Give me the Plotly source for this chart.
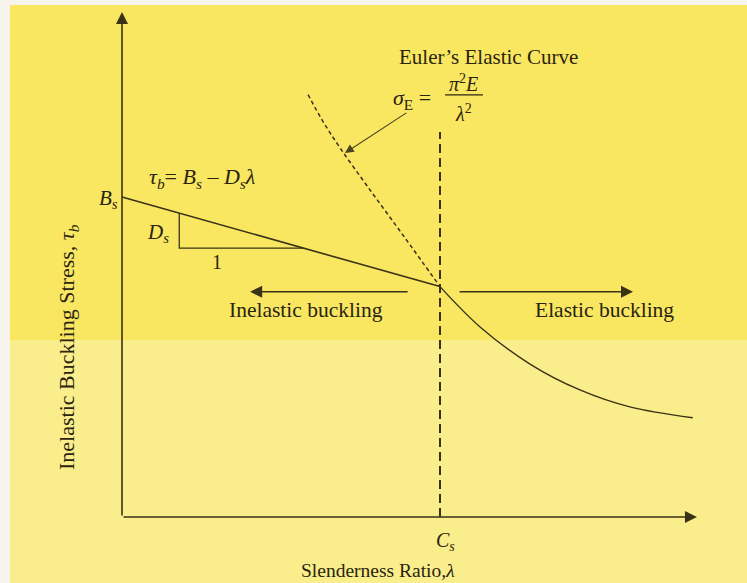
import plotly.graph_objects as go

# ---- diagram values (lambda: slenderness ratio, tau: buckling stress, arbitrary units)
Bs = 100.0            # intercept of the inelastic straight line
Cs = 100.0            # slenderness ratio at the inelastic/elastic transition
tau_at_Cs = 72.0      # stress where the two regimes meet
Ds = (Bs - tau_at_Cs) / Cs   # slope of the inelastic line

inelastic_lam = [0.0, Cs]
inelastic_tau = [Bs, tau_at_Cs]

# Euler hyperbola (dashed, above the transition point)
euler_lam = [58.5, 62.9, 68.6, 78.0, 89.0, 100.0]
euler_tau = [132.0, 124.1, 115.3, 102.2, 87.2, 72.0]

# elastic buckling branch (solid, beyond Cs)
elastic_lam = [100.0, 112.6, 128.3, 144.0, 159.7, 179.5]
elastic_tau = [72.0, 59.4, 47.8, 39.7, 34.4, 31.0]

slope_lam = [18.0, 57.0]      # run of the slope triangle under the line
cs_top = 120.3                # top of the dashed Cs marker
axis_len = [180.8, 157.8]     # lengths of the lambda and tau axes

# ---- styling
INK = "#2a240e"
LINE = "#393216"
FONT = "Liberation Serif"
W, H = 747, 583
X_RANGE = [-38.365, 196.54]
Y_RANGE = [-20.625, 161.56]

fig = go.Figure()

# inelastic straight line  tau_b = Bs - Ds*lambda
fig.add_trace(go.Scatter(x=inelastic_lam, y=inelastic_tau, mode="lines",
                         line=dict(color=LINE, width=1.6), hoverinfo="skip"))
# slope triangle
tri_x = [slope_lam[0], slope_lam[0], slope_lam[1]]
tri_y = [Bs - Ds * slope_lam[0], Bs - Ds * slope_lam[1], Bs - Ds * slope_lam[1]]
fig.add_trace(go.Scatter(x=tri_x, y=tri_y, mode="lines",
                         line=dict(color=LINE, width=1.3), hoverinfo="skip"))
# Euler curve
fig.add_trace(go.Scatter(x=euler_lam, y=euler_tau, mode="lines",
                         line=dict(color=LINE, width=1.5, dash="4px,3px", shape="spline"),
                         hoverinfo="skip"))
# elastic branch
fig.add_trace(go.Scatter(x=elastic_lam, y=elastic_tau, mode="lines",
                         line=dict(color=LINE, width=1.4, shape="spline"),
                         hoverinfo="skip"))
# vertical dashed line at Cs
fig.add_trace(go.Scatter(x=[Cs, Cs], y=[0, cs_top], mode="lines",
                         line=dict(color=LINE, width=2, dash="9px,5px"),
                         hoverinfo="skip"))
# fraction bar of the Euler formula
fig.add_trace(go.Scatter(x=[101.6, 113.5], y=[131.9, 131.9], mode="lines",
                         line=dict(color=INK, width=1.1), hoverinfo="skip"))


def arrow(x0, y0, x1, y1, width=1.6, size=1.5, color=LINE):
    fig.add_annotation(x=x1, y=y1, ax=x0, ay=y0, xref="x", yref="y",
                       axref="x", ayref="y", text="", showarrow=True,
                       arrowhead=2, arrowsize=size, arrowwidth=width,
                       arrowcolor=color)


def label(x, y, text, size=21, xanchor="center", angle=0):
    fig.add_annotation(x=x, y=y, xref="x", yref="y", text=text, showarrow=False,
                       xanchor=xanchor, yanchor="middle", textangle=angle,
                       font=dict(family=FONT, size=size, color=INK))


# axes
arrow(0, 0, 0, axis_len[1])
arrow(0, 0, axis_len[0], 0)
# regime arrows
arrow(90.3, 70.4, 40.3, 70.4)
arrow(105.7, 70.4, 160.7, 70.4)
# pointer from formula to the Euler curve
arrow(89.9, 126.6, 70.1, 113.75, width=1.1, size=1.6, color="#4a4320")

# text
label(115.4, 143.75, "Euler\u2019s Elastic Curve", size=21)
label(91.2, 130.6, "<i>\u03c3</i><sub>E</sub> =", size=22)
label(107.5, 135.6, "<i>\u03c0</i><sup>2</sup><i>E</i>", size=20)
label(107.5, 126.4, "<i>\u03bb</i><sup>2</sup>", size=20)
label(7.9, 105.9, "<i>\u03c4<sub>b</sub></i>= <i>B<sub>s</sub></i> \u2013 <i>D<sub>s</sub>\u03bb</i>",
      size=22, xanchor="left")
label(-0.5, 99.5, "<i>B<sub>s</sub></i>", size=21, xanchor="right")
label(11.3, 88.9, "<i>D<sub>s</sub></i>", size=21)
label(29.9, 79.7, "1", size=20)
label(57.8, 64.7, "Inelastic buckling", size=21.5)
label(151.6, 64.7, "Elastic buckling", size=21.5)
label(101.8, -7.8, "<i>C<sub>s</sub></i>", size=20)
label(80.5, -16.6, "Slenderness Ratio,<i>\u03bb</i>", size=19.5)
label(-16.8, 53.0, "Inelastic Buckling Stress, <i>\u03c4<sub>b</sub></i>", size=22, angle=-90)

# background bands
fig.add_shape(type="rect", xref="paper", yref="paper", layer="below",
              x0=10 / W, x1=1, y0=1 - 340 / H, y1=1 - 5 / H,
              fillcolor="#f9e762", line=dict(width=0))
fig.add_shape(type="rect", xref="paper", yref="paper", layer="below",
              x0=10 / W, x1=1, y0=0, y1=1 - 340 / H,
              fillcolor="#faee8c", line=dict(width=0))

fig.update_layout(
    width=W, height=H, autosize=False,
    margin=dict(l=0, r=0, t=0, b=0),
    paper_bgcolor="#f6f4ec", plot_bgcolor="rgba(0,0,0,0)",
    showlegend=False,
    xaxis=dict(range=X_RANGE, visible=False, fixedrange=True),
    yaxis=dict(range=Y_RANGE, visible=False, fixedrange=True),
)

fig.write_html("out.html", config={"displayModeBar": False})
